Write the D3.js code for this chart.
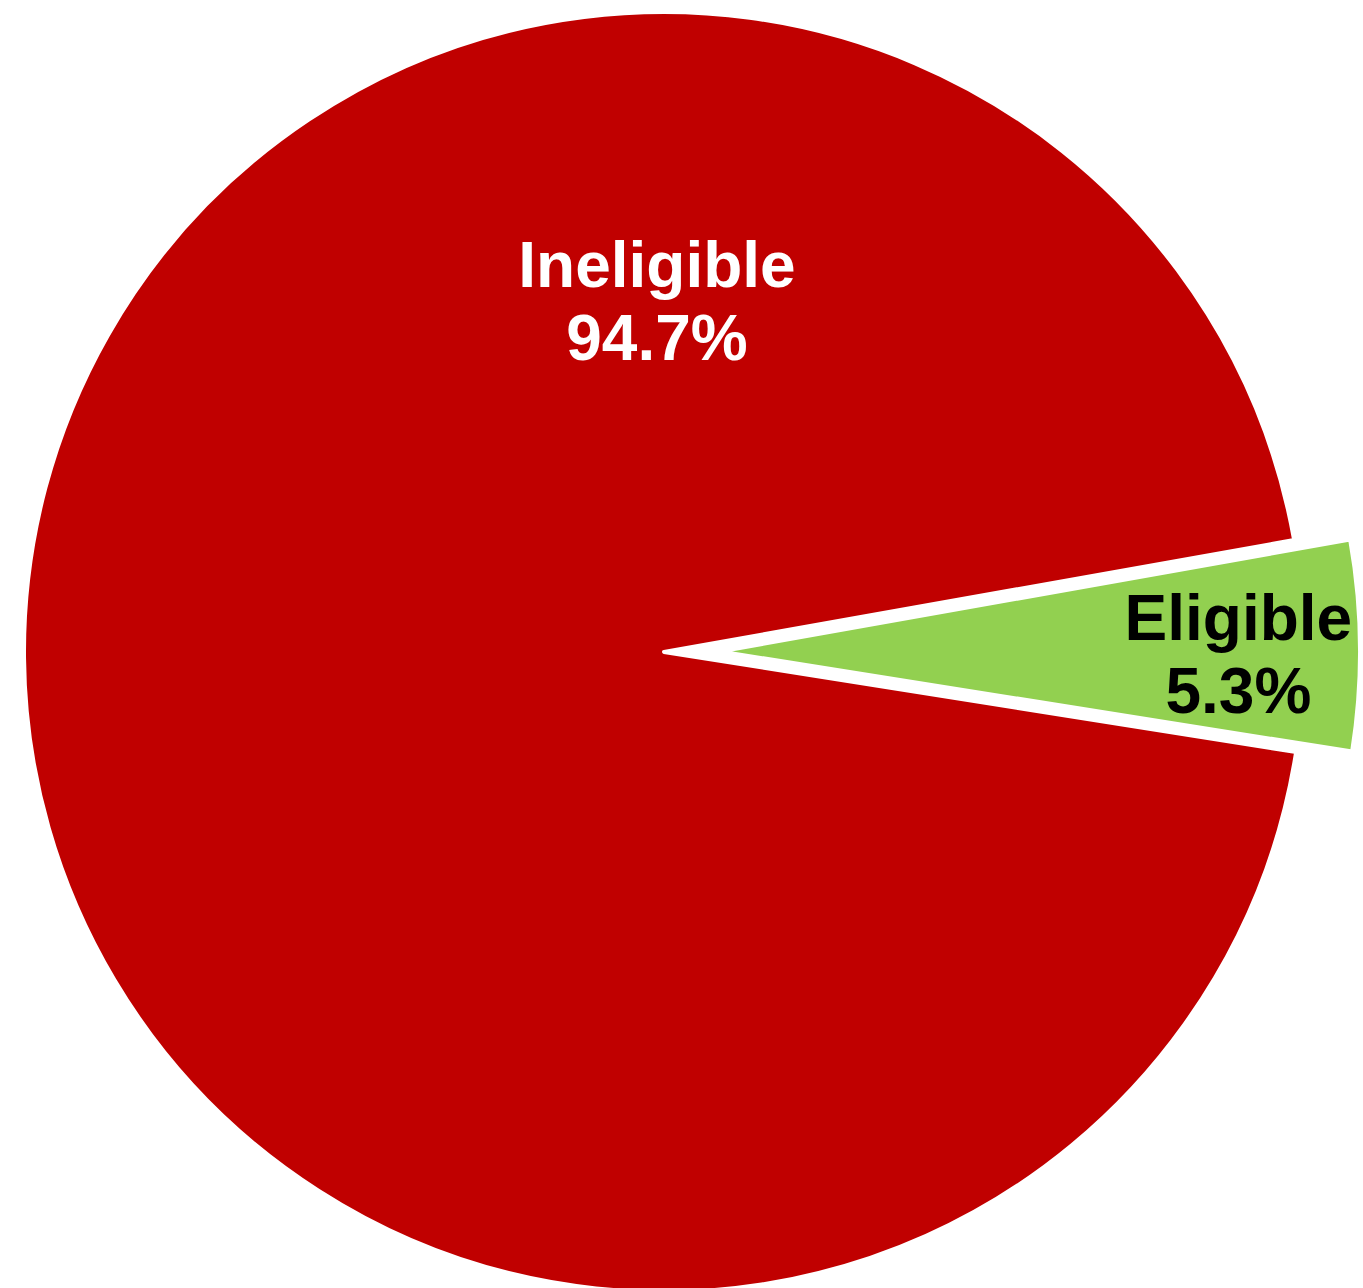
<!DOCTYPE html>
<html>
<head>
<meta charset="utf-8">
<script src="https://cdn.jsdelivr.net/npm/d3@7"></script>
<style>
  body { margin: 0; background: #fff; }
  text { font-family: "Liberation Sans", Arial, sans-serif; font-weight: bold; }
</style>
</head>
<body>
<div id="chart"></div>
<script>
var svgWidth = 1363;
var svgHeight = 1288;

// data
var categories = ["Ineligible", "Eligible"];
var shares = [94.7, 5.3];
var colors = ["#C00000", "#92D050"];
var labelColors = ["#ffffff", "#000000"];

var cx = 664, cy = 652;
var radius = 640;
var explode = 56;
var startDeg = 99.0;

var svg = d3.select("#chart")
  .append("svg")
  .attr("width", svgWidth)
  .attr("height", svgHeight);

var chartGroup = svg.append("g")
  .attr("transform", `translate(${cx}, ${cy})`);

var pie = d3.pie()
  .sort(null)
  .value(d => d)
  .startAngle(startDeg * Math.PI / 180)
  .endAngle(startDeg * Math.PI / 180 + 2 * Math.PI);

var arcs = pie(shares);

var arc = d3.arc()
  .innerRadius(0)
  .outerRadius(radius);

// explode only the small slice
function offset(d, i) {
  if (i === 0) return [0, 0];
  var mid = (d.startAngle + d.endAngle) / 2;
  return [Math.sin(mid) * explode, -Math.cos(mid) * explode];
}

var slices = chartGroup.selectAll("g.slice")
  .data(arcs)
  .enter()
  .append("g")
  .attr("class", "slice")
  .attr("transform", (d, i) => {
    var o = offset(d, i);
    return `translate(${o[0]}, ${o[1]})`;
  });

slices.append("path")
  .attr("d", arc)
  .attr("fill", (d, i) => colors[i])
  .attr("stroke", "#fff")
  .attr("stroke-width", 4)
  .attr("stroke-linejoin", "round");

// label positions (Excel best fit style)
var labelPos = [
  function(d) { return [-7, -radius * 0.56]; },
  function(d) {
    var mid = (d.startAngle + d.endAngle) / 2;
    var r = radius * 0.81;
    return [Math.sin(mid) * r, -Math.cos(mid) * r];
  }
];

slices.each(function(d, i) {
  var p = labelPos[i](d);
  var t = d3.select(this).append("text")
    .attr("x", p[0])
    .attr("y", p[1])
    .attr("text-anchor", "middle")
    .attr("fill", labelColors[i])
    .style("font-size", "64px");
  t.append("tspan")
    .attr("x", p[0])
    .attr("dy", "-0.1em")
    .text(categories[i]);
  t.append("tspan")
    .attr("x", p[0])
    .attr("dy", "1.13em")
    .text(shares[i].toFixed(1) + "%");
});
</script>
</body>
</html>
